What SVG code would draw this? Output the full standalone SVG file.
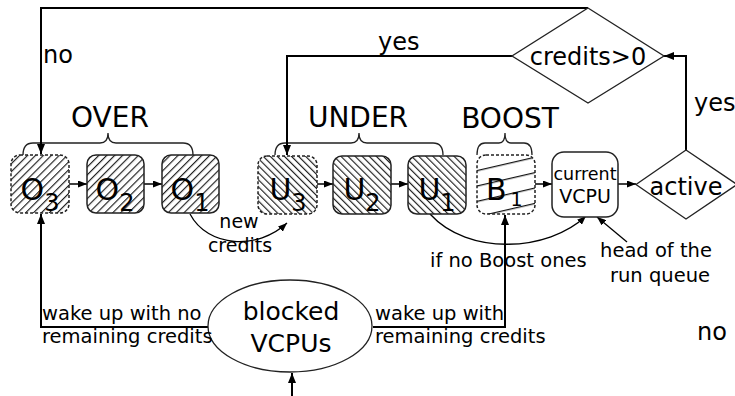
<svg xmlns="http://www.w3.org/2000/svg" width="735" height="396" viewBox="0 0 735 396">
  <style>
    text { font-family: "DejaVu Sans", Verdana, sans-serif; fill: #000; }
    .big { font-size: 30px; }
    .sub { font-size: 24px; }
    .grp { font-size: 28px; }
    .dec { font-size: 24px; }
    .lbl { font-size: 19.5px; }
    .box { stroke: #222; stroke-width: 1.5; }
    .dash { stroke-dasharray: 3 2; }
    .shape { fill: #fff; stroke: #222; stroke-width: 1.3; }
    .brace { fill: none; stroke: #222; stroke-width: 1.3; }
    .main { fill: none; stroke: #000; stroke-width: 2; }
    .thin { fill: none; stroke: #000; stroke-width: 1.3; }
    .link { fill: none; stroke: #000; stroke-width: 1.5; }
    .hl { stroke: #111; stroke-width: 1.1; }
  </style>
  <defs>
    <pattern id="hatchO" width="5.6" height="10" patternUnits="userSpaceOnUse" patternTransform="rotate(45)">
      <rect width="5.6" height="10" fill="#fff"/>
      <line class="hl" x1="0.6" y1="0" x2="0.6" y2="10"/>
    </pattern>
    <pattern id="hatchU" width="5" height="10" patternUnits="userSpaceOnUse" patternTransform="rotate(-45)">
      <rect width="5" height="10" fill="#fff"/>
      <line class="hl" x1="0.6" y1="0" x2="0.6" y2="10"/>
    </pattern>
    <pattern id="hatchB" width="200" height="15" patternUnits="userSpaceOnUse" patternTransform="translate(477,170) rotate(-13)">
      <rect width="200" height="15" fill="#fff"/>
      <line class="hl" x1="0" y1="0.6" x2="200" y2="0.6"/>
    </pattern>
    <marker id="arr" viewBox="0 0 10 8" refX="10" refY="4" markerWidth="10" markerHeight="8" markerUnits="userSpaceOnUse" orient="auto">
      <path d="M0,0 L10,4 L0,8 Z" fill="#000"/>
    </marker>
    <marker id="arrS" viewBox="0 0 9 7" refX="9" refY="3.5" markerWidth="9" markerHeight="7" markerUnits="userSpaceOnUse" orient="auto">
      <path d="M0,0 L9,3.5 L0,7 Z" fill="#000"/>
    </marker>
  </defs>

  <!-- group braces and labels -->
  <g id="over">
    <path class="brace" d="M23,155 Q23,143 33,143 H100 Q108,143 108,133 Q108,143 116,143 H183 Q193,143 193,155"/>
    <text class="grp" x="110" y="127" text-anchor="middle">OVER</text>
  </g>
  <g id="under">
    <path class="brace" d="M275,155 Q275,143 285,143 H351 Q359,143 359,133 Q359,143 367,143 H433 Q443,143 443,155"/>
    <text class="grp" x="358" y="127" text-anchor="middle">UNDER</text>
  </g>
  <g id="boost">
    <path class="brace" d="M477,155 Q477,143 485,143 H499 Q505,143 505,133 Q505,143 511,143 H524 Q532,143 532,155"/>
    <text class="grp" x="510" y="128" text-anchor="middle">BOOST</text>
  </g>

  <!-- connectors -->
  <g id="connectors">
    <path class="main" d="M588,8 H41 V154" marker-end="url(#arr)"/>
    <path class="main" d="M512,56 H287 V155" marker-end="url(#arr)"/>
    <path class="main" d="M686,150 V56 H664" marker-end="url(#arr)"/>
    <path class="link" d="M69,184 H87" marker-end="url(#arrS)"/>
    <path class="link" d="M144,184 H162" marker-end="url(#arrS)"/>
    <path class="link" d="M317,184 H333" marker-end="url(#arrS)"/>
    <path class="link" d="M391,184 H408" marker-end="url(#arrS)"/>
    <path class="link" d="M535,184 H552" marker-end="url(#arrS)"/>
    <path class="link" d="M618,184 H636" marker-end="url(#arrS)"/>
    <path class="thin" d="M190,214 C208,248 258,250 287,223" marker-end="url(#arrS)"/>
    <path class="thin" d="M430,214 C468,256 548,252 586,216" marker-end="url(#arrS)"/>
    <path class="thin" d="M627,242 L597,217" marker-end="url(#arrS)"/>
    <path class="main" d="M208,327 H41 V214" marker-end="url(#arr)"/>
    <path class="main" d="M373,327 H505 V215" marker-end="url(#arr)"/>
    <path class="main" d="M292,396 V373" marker-end="url(#arr)"/>
  </g>

  <!-- OVER queue -->
  <g id="O3">
    <rect class="box dash" x="11" y="155" width="58" height="58" rx="9" fill="url(#hatchO)"/>
    <text class="big" x="40" y="200" text-anchor="middle">O<tspan class="sub" dy="11">3</tspan></text>
  </g>
  <g id="O2">
    <rect class="box" x="87" y="155" width="57" height="58" rx="9" fill="url(#hatchO)"/>
    <text class="big" x="115" y="200" text-anchor="middle">O<tspan class="sub" dy="11">2</tspan></text>
  </g>
  <g id="O1">
    <rect class="box" x="162" y="155" width="57" height="58" rx="9" fill="url(#hatchO)"/>
    <text class="big" x="190" y="200" text-anchor="middle">O<tspan class="sub" dy="11">1</tspan></text>
  </g>

  <!-- UNDER queue -->
  <g id="U3">
    <rect class="box dash" x="258" y="156" width="59" height="58" rx="9" fill="url(#hatchU)"/>
    <text class="big" x="288" y="200" text-anchor="middle">U<tspan class="sub" dy="11">3</tspan></text>
  </g>
  <g id="U2">
    <rect class="box" x="333" y="156" width="58" height="58" rx="9" fill="url(#hatchU)"/>
    <text class="big" x="362" y="200" text-anchor="middle">U<tspan class="sub" dy="11">2</tspan></text>
  </g>
  <g id="U1">
    <rect class="box" x="408" y="156" width="58" height="58" rx="9" fill="url(#hatchU)"/>
    <text class="big" x="437" y="200" text-anchor="middle">U<tspan class="sub" dy="11">1</tspan></text>
  </g>

  <!-- BOOST queue -->
  <g id="B1">
    <rect class="box dash" x="477" y="155" width="58" height="59" rx="9" fill="url(#hatchB)"/>
    <text class="big" x="486" y="200">B<tspan font-size="19" dx="4" dy="6">1</tspan></text>
  </g>

  <g id="current">
    <rect class="box" x="552" y="152" width="66" height="65" rx="12" fill="#fff"/>
    <text x="585" y="180" font-size="17.5" text-anchor="middle">current</text>
    <text x="585" y="203" font-size="19" text-anchor="middle">VCPU</text>
  </g>

  <g id="active">
    <polygon class="shape" points="686,150 737,184.5 686,219 636,184.5"/>
    <text class="dec" x="686" y="195" font-size="25" text-anchor="middle">active</text>
  </g>

  <g id="credits">
    <polygon class="shape" points="588,8 664,56 588,103 512,56"/>
    <text class="dec" x="588" y="65" text-anchor="middle">credits&gt;0</text>
  </g>

  <g id="blocked">
    <ellipse class="shape" cx="290" cy="326" rx="82" ry="46"/>
    <text x="291" y="320" font-size="25" text-anchor="middle">blocked</text>
    <text x="291" y="352" font-size="25" text-anchor="middle">VCPUs</text>
  </g>

  <!-- connector labels -->
  <g id="labels">
    <text class="dec" x="43" y="63">no</text>
    <text class="dec" x="378" y="50">yes</text>
    <text class="dec" x="694" y="111">yes</text>
    <text class="dec" x="697" y="340">no</text>
    <text x="239" y="228" font-size="19" text-anchor="middle">new</text>
    <text x="240" y="252" font-size="19" text-anchor="middle">credits</text>
    <text class="lbl" x="430" y="267">if no Boost ones</text>
    <text class="lbl" x="656" y="257" text-anchor="middle">head of the</text>
    <text class="lbl" x="660" y="282" text-anchor="middle">run queue</text>
    <text class="lbl" x="42" y="320">wake up with no</text>
    <text class="lbl" x="42" y="343">remaining credits</text>
    <text class="lbl" x="375" y="320">wake up with</text>
    <text class="lbl" x="375" y="343">remaining credits</text>
  </g>
</svg>
